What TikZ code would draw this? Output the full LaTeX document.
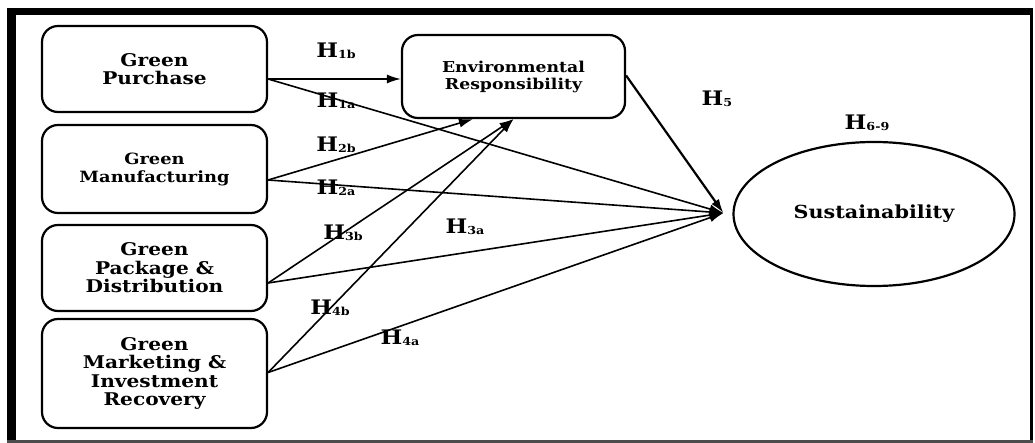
\documentclass[tikz,border=0pt]{standalone}
\usepackage{fontspec}
\setmainfont[FakeStretch=1.15]{DejaVu Serif}
\usetikzlibrary{arrows.meta,calc,shapes.geometric}
\newcommand\hyp[1]{H\raisebox{-1.5pt}{\fontsize{11}{11}\selectfont #1}}
\tikzset{
  box/.style={draw, line width=2.2pt, rounded corners=16pt, align=center, font=\bfseries\fontsize{17.5}{18.5}\selectfont, inner sep=0pt},
  hlab/.style={font=\bfseries\fontsize{20}{20}\selectfont, inner sep=0pt},
  arr/.style={line width=1.6pt, -{Latex[length=14pt,width=9pt]}}
}
\begin{document}
\begin{tikzpicture}[x=1pt,y=-1pt]
\useasboundingbox (0,0) rectangle (1035,443);
% frame
\draw[line width=7pt] (7,11.5) -- (1033,11.5);
\draw[line width=9pt] (11.5,8) -- (11.5,443);
\draw[line width=3pt] (1031.5,8) -- (1031.5,443);
\draw[line width=2.5pt, black!70] (7,441.5) -- (1033,441.5);
% nodes
\node[box, minimum width=225pt, minimum height=86pt] (gp) at (154.5,69) {Green\\Purchase};
\node[box, minimum width=225pt, minimum height=88pt, font=\bfseries\fontsize{15.5}{18}\selectfont] (gm) at (154.5,169) {Green\\Manufacturing};
\node[box, minimum width=225pt, minimum height=86pt] (gpd) at (154.5,268) {Green\\Package \&\\Distribution};
\node[box, minimum width=225pt, minimum height=109pt] (gmir) at (154.5,373.5) {Green\\Marketing \&\\Investment\\Recovery};
\node[box, minimum width=223pt, minimum height=83pt, font=\bfseries\fontsize{15}{17}\selectfont] (er) at (513.5,76.5) {Environmental\\Responsibility};
\node[draw, ellipse, line width=2.2pt, minimum width=281pt, minimum height=144pt, inner sep=0pt, font=\bfseries\fontsize{18}{20}\selectfont] (sus) at (874,214) {Sustainability};
% anchor points
\coordinate (gpo) at ($(gp.east)+(0,10)$);
\coordinate (gmo) at ($(gm.east)+(0,11)$);
\coordinate (gpdo) at ($(gpd.east)+(0,15)$);
\coordinate (gmiro) at ($(gmir.east)+(0,-1)$);
\coordinate (erin1) at ($(er.south west)!0.32!(er.south east)$);
\coordinate (erin2) at ($(er.south west)!0.50!(er.south east)$);
\coordinate (ero) at ($(er.east)+(0,-1)$);
\coordinate (sin) at ($(sus.west)+(-9,-1)$);
% connectors to ER
\draw[arr] (gpo) -- (gpo -| er.west);
\draw[arr] (gmo) -- (erin1);
\draw[arr] (gpdo) -- (erin2);
\draw[arr] (gmiro) -- (erin2);
% connectors to Sustainability
\draw[arr] (gpo) -- (sin);
\draw[arr] (gmo) -- (sin);
\draw[arr] (gpdo) -- (sin);
\draw[arr] (gmiro) -- (sin);
\draw[arr, line width=2.2pt] (ero) -- (sin);
% labels
\node[hlab] (h1b) at (336,51) {\hyp{1b}};
\node[hlab] (h1a) at (336,101) {\hyp{1a}};
\node[hlab] (h2b) at (336,145) {\hyp{2b}};
\node[hlab] (h2a) at (336,188) {\hyp{2a}};
\node[hlab] (h3b) at (343,233) {\hyp{3b}};
\node[hlab] (h3a) at (465,227) {\hyp{3a}};
\node[hlab] (h4b) at (330,308) {\hyp{4b}};
\node[hlab] (h4a) at (400,338) {\hyp{4a}};
\node[hlab] (h5) at (717,99) {\hyp{5}};
\node[hlab] (h69) at (867,123) {\hyp{6-9}};
\end{tikzpicture}
\end{document}
